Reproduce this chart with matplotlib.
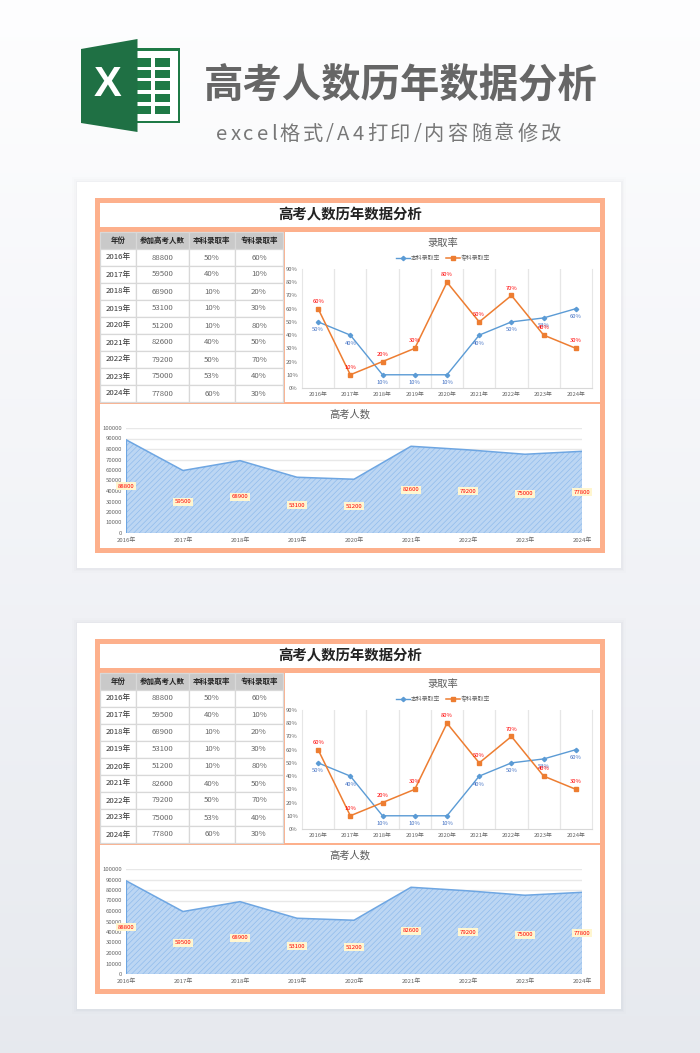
import numpy as np
import matplotlib
matplotlib.use("Agg")
import matplotlib.pyplot as plt
from matplotlib.patches import Rectangle, Polygon

plt.rcParams['font.family'] = ['Noto Sans CJK SC', 'DejaVu Sans']
plt.rcParams['hatch.linewidth'] = 0.45

# data
annees = ["2016年", "2017年", "2018年", "2019年", "2020年", "2021年", "2022年", "2023年", "2024年"]
nb_candidats = [88800, 59500, 68900, 53100, 51200, 82600, 79200, 75000, 77800]
taux_benke = [50, 40, 10, 10, 10, 40, 50, 53, 60]
taux_zhuanke = [60, 10, 20, 30, 80, 50, 70, 40, 30]
entetes = ["年份", "参加高考人数", "本科录取率", "专科录取率"]
titre = "高考人数历年数据分析"
sous_titre = "excel格式/A4打印/内容随意修改"

W, H = 700, 1053
ORANGE = "#fdb08c"
BLEU = "#5b9bd5"
ORANGE_L = "#ed7d31"

fig = plt.figure(figsize=(W / 100, H / 100), dpi=100)


def px_axes(x0, y0, x1, y1, **kw):
    # axes placed with pixel box, y going down
    return fig.add_axes([x0 / W, 1 - y1 / H, (x1 - x0) / W, (y1 - y0) / H], **kw)


# fond + calque en pixels
bg = fig.add_axes([0, 0, 1, 1], zorder=0)
bg.set_xlim(0, W)
bg.set_ylim(H, 0)
bg.axis("off")
t = np.linspace(0, 1, 256)
img = np.zeros((256, 1, 3))
img[:, 0, 0] = np.interp(t, [0, 0.5, 1], [0.995, 0.95, 0.905])
img[:, 0, 1] = np.interp(t, [0, 0.5, 1], [0.995, 0.955, 0.915])
img[:, 0, 2] = np.interp(t, [0, 0.5, 1], [0.998, 0.97, 0.935])
bg.imshow(img, extent=[0, W, H, 0], aspect="auto", zorder=0)

# logo excel
bg.add_patch(Rectangle((137, 48), 43, 75, fc="#1f7a46", ec="none", zorder=2))
bg.add_patch(Rectangle((137, 50.5), 40.5, 70, fc="white", ec="none", zorder=2))
for yy in [58, 69.5, 81, 93.5, 105.5]:
    bg.add_patch(Rectangle((137, yy), 14, 8.5, fc="#1f7a46", ec="none", zorder=3))
    bg.add_patch(Rectangle((155, yy), 15, 8.5, fc="#1f7a46", ec="none", zorder=3))
bg.add_patch(Polygon([(81, 49), (137.5, 39), (137.5, 132), (81, 123)], fc="#1f7044", ec="none", zorder=4))
bg.text(107.5, 85, "X", color="white", fontsize=30, fontweight="bold", ha="center", va="center",
        family="Liberation Sans", zorder=5)

bg.text(400.5, 86, titre[0:2] + "人数" + titre[4:], color="#666666", fontsize=28.4, fontweight="bold",
        ha="center", va="center", zorder=5)

# sous-titre espacé : caractère par caractère
rendu = fig.canvas.get_renderer()
morceaux = [bg.text(0, 134, c, color="#777777", fontsize=14.6, fontweight="light", ha="left", va="center", zorder=5)
            for c in sous_titre]
largeurs = [m.get_window_extent(rendu).width for m in morceaux]
espace = (345 - sum(largeurs)) / (len(morceaux) - 1)
pos = 216
for m, l in zip(morceaux, largeurs):
    m.set_x(pos)
    pos += l + espace


def dessine_page(dy):
    # ombre, carte blanche, cadre orange
    for k, a in [(5, 0.012), (3, 0.02), (1.5, 0.035)]:
        bg.add_patch(Rectangle((77 - k, 182 + dy - k), 544 + 2 * k, 386 + 2 * k, fc="#707888", alpha=a, ec="none", zorder=1))
    bg.add_patch(Rectangle((77, 182 + dy), 544, 386, fc="white", ec="none", zorder=2))
    bg.add_patch(Rectangle((95, 198 + dy), 510, 355, fc=ORANGE, ec="none", zorder=2))
    bg.add_patch(Rectangle((100, 203 + dy), 500, 24, fc="white", ec="none", zorder=3))
    bg.add_patch(Rectangle((100, 232 + dy), 183, 170, fc="white", ec="none", zorder=3))
    bg.add_patch(Rectangle((285, 232 + dy), 315, 170, fc="white", ec="none", zorder=3))
    bg.add_patch(Rectangle((100, 404 + dy), 500, 144, fc="white", ec="none", zorder=3))
    bg.text(350, 215.5 + dy, titre, fontsize=10.4, fontweight="bold", color="#222222", ha="center", va="center", zorder=4)

    # tableau
    ax_t = px_axes(100, 232 + dy, 283, 402 + dy, zorder=2)
    ax_t.axis("off")
    cellules = [[a, str(n), f"{b}%", f"{z}%"] for a, n, b, z in zip(annees, nb_candidats, taux_benke, taux_zhuanke)]
    tab = ax_t.table(cellText=cellules, colLabels=entetes, bbox=[0, 0, 1, 1],
                     colWidths=[36 / 183, 53 / 183, 46 / 183, 48 / 183], cellLoc="center")
    tab.auto_set_font_size(False)
    for (r, c), cell in tab.get_celld().items():
        cell.set_edgecolor("#d8d8d8")
        cell.set_linewidth(0.9)
        cell.PAD = 0.02
        if r == 0:
            cell.set_facecolor("#c9c9c9")
            cell.set_text_props(fontsize=5.4, fontweight="bold", color="#222222")
        else:
            cell.set_text_props(fontsize=5.6, color="#333333" if c == 0 else "#666666")

    # courbes des taux
    ax_l = px_axes(302, 269 + dy, 592, 388 + dy, zorder=2)
    x = np.arange(len(annees))
    ax_l.plot(x, taux_benke, color=BLEU, marker="D", ms=2.2, lw=1.0, label="本科录取率", clip_on=False)
    ax_l.plot(x, taux_zhuanke, color=ORANGE_L, marker="s", ms=2.8, lw=1.1, label="专科录取率", clip_on=False)
    for xi, b, z in zip(x, taux_benke, taux_zhuanke):
        ax_l.annotate(f"{b}%", (xi, b), xytext=(0, -5.8), textcoords="offset points", ha="center", va="center",
                      fontsize=4.2, color="#4472c4")
        ax_l.annotate(f"{z}%", (xi, z), xytext=(0, 5.3), textcoords="offset points", ha="center", va="center",
                      fontsize=4.2, color="#ff0000")
    ax_l.set_xlim(-0.5, 8.5)
    ax_l.set_ylim(0, 90)
    ax_l.set_yticks(range(0, 91, 10))
    ax_l.set_yticklabels([f"{v}%" for v in range(0, 91, 10)])
    ax_l.set_xticks(x)
    ax_l.set_xticklabels(annees)
    ax_l.set_xticks(x[:-1] + 0.5, minor=True)
    ax_l.grid(True, which="minor", axis="x", color="#e6e6e6", lw=0.9)
    ax_l.tick_params(which="both", length=0)
    ax_l.tick_params(labelsize=4.2, labelcolor="#666666", pad=3)
    ax_l.spines["top"].set_visible(False)
    ax_l.spines["left"].set_color("#e6e6e6")
    ax_l.spines["right"].set_color("#e6e6e6")
    ax_l.spines["bottom"].set_color("#d8d8d8")
    ax_l.set_axisbelow(True)
    bg.text(443, 243 + dy, "录取率", fontsize=7.4, color="#595959", ha="center", va="center", zorder=4)
    fig.legend(*ax_l.get_legend_handles_labels(), loc="center", bbox_to_anchor=(443 / W, 1 - (258 + dy) / H),
               ncol=2, frameon=False, fontsize=4.2, labelcolor="#595959", handlelength=2.4, columnspacing=0.9,
               handletextpad=0.2, borderpad=0)

    # aire des candidats
    ax_a = px_axes(126, 428 + dy, 582, 533 + dy, zorder=2)
    ax_a.fill_between(x, nb_candidats, 0, facecolor="#bcd6f3", edgecolor="#8dbaec", hatch="//////", lw=0)
    ax_a.plot(x, nb_candidats, color="#6ea6e2", lw=1.1)
    ax_a.plot([x[0], x[0]], [0, nb_candidats[0]], color="#6ea6e2", lw=0.8)
    ax_a.plot([x[-1], x[-1]], [0, nb_candidats[-1]], color="#6ea6e2", lw=0.8)
    ax_a.plot([x[0], x[-1]], [0, 0], color="#6ea6e2", lw=0.8)
    for xi, n in zip(x, nb_candidats):
        ax_a.text(xi, n / 2, str(n), fontsize=4.3, color="#ff0000", fontweight="medium", ha="center", va="center",
                  clip_on=False, bbox=dict(fc="#fff6cf", ec="none", pad=1.1))
    ax_a.set_xlim(0, 8)
    ax_a.set_ylim(0, 100000)
    ax_a.set_yticks(range(0, 100001, 10000))
    ax_a.set_xticks(x)
    ax_a.set_xticklabels(annees)
    ax_a.grid(True, axis="y", color="#e8e8e8", lw=1.0)
    ax_a.set_axisbelow(True)
    ax_a.tick_params(length=0, labelsize=4.3, labelcolor="#666666", pad=3)
    for s in ax_a.spines.values():
        s.set_visible(False)
    ax_a.patch.set_alpha(0)
    bg.text(350, 415 + dy, "高考人数", fontsize=7.4, color="#595959", ha="center", va="center", zorder=4)


dessine_page(0)
dessine_page(441)

fig.savefig("out.png", dpi=100)
